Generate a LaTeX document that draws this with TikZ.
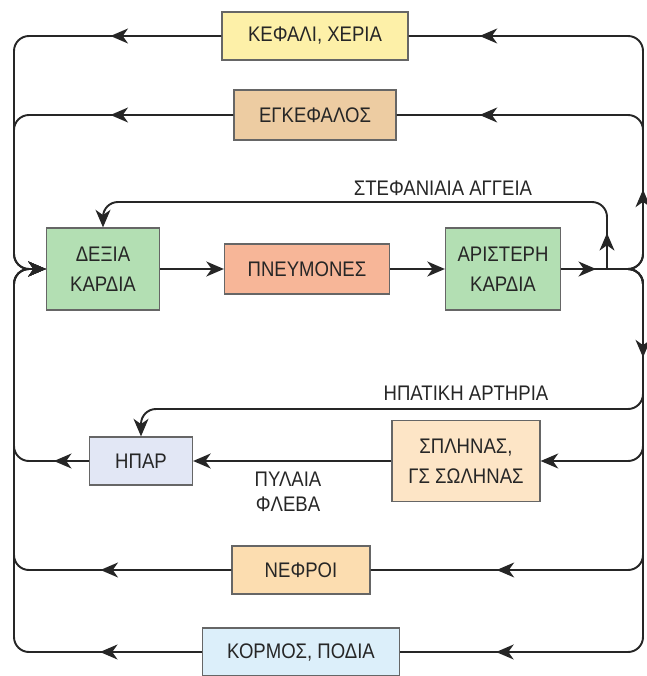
\documentclass[tikz,border=0pt]{standalone}
\usepackage{fontspec}
\setmainfont{Liberation Sans}[FakeStretch=0.88]
\usepackage{xcolor}
\usetikzlibrary{arrows.meta}
\usetikzlibrary{decorations.markings}

\definecolor{headcol}{HTML}{FDF0A8}
\definecolor{braincol}{HTML}{EDCCA2}
\definecolor{heartcol}{HTML}{B3DFB3}
\definecolor{lungcol}{HTML}{F7B698}
\definecolor{livercol}{HTML}{E2E7F5}
\definecolor{spleencol}{HTML}{FDE5C6}
\definecolor{kidneycol}{HTML}{FCDDB0}
\definecolor{trunkcol}{HTML}{DCEFFA}

\begin{document}
\begin{tikzpicture}[x=0.02cm, y=-0.02cm,
        flow/.style={line width=1.1pt, black!85, rounded corners=0.3cm},
        tip/.style={-{Stealth[length=10pt,width=8.5pt,inset=3pt]}},
        arrowat/.style={postaction={decorate, decoration={markings,
            mark=at position #1 with {\arrow{Stealth[length=10pt,width=8.5pt,inset=3pt]}}}}},
        box/.style={draw=black!60, line width=0.7pt, text=black!85, align=center,
            inner sep=2pt, font=\fontsize{12}{17}\selectfont},
        lab/.style={text=black!85, align=center, font=\fontsize{12}{14}\selectfont}]
        \useasboundingbox (0,0) rectangle (646,676);

        % organs
        \node[box, fill=headcol, minimum width=3.72cm, minimum height=0.96cm] (head) at (315,36) {ΚΕΦΑΛΙ, ΧΕΡΙΑ};
        \node[box, fill=braincol, minimum width=3.24cm, minimum height=1cm] (brain) at (315,115) {ΕΓΚΕΦΑΛΟΣ};
        \node[box, fill=heartcol, minimum width=2.26cm, minimum height=1.64cm] (rheart) at (103,269) {ΔΕΞΙΑ\\ΚΑΡΔΙΑ};
        \node[box, fill=lungcol, minimum width=3.3cm, minimum height=1cm] (lungs) at (307,269) {ΠΝΕΥΜΟΝΕΣ};
        \node[box, fill=heartcol, minimum width=2.3cm, minimum height=1.64cm] (lheart) at (503,269) {ΑΡΙΣΤΕΡΗ\\ΚΑΡΔΙΑ};
        \node[box, fill=livercol, minimum width=2.06cm, minimum height=0.96cm] (liver) at (141,461) {ΗΠΑΡ};
        \node[box, fill=spleencol, minimum width=2.96cm, minimum height=1.62cm] (spleen) at (466,461) {ΣΠΛΗΝΑΣ,\\ΓΣ ΣΩΛΗΝΑΣ};
        \node[box, fill=kidneycol, minimum width=2.76cm, minimum height=0.96cm] (kidney) at (301,570) {ΝΕΦΡΟΙ};
        \node[box, fill=trunkcol, minimum width=3.94cm, minimum height=0.96cm] (trunk) at (301,652) {ΚΟΡΜΟΣ, ΠΟΔΙΑ};

        % vessel labels
        \node[lab] (corlab) at (443,188) {ΣΤΕΦΑΝΙΑΙΑ ΑΓΓΕΙΑ};
        \node[lab] (heplab) at (466,393) {ΗΠΑΤΙΚΗ ΑΡΤΗΡΙΑ};
        \node[lab] (portlab) at (288,492) {ΠΥΛΑΙΑ\\ΦΛΕΒΑ};

        \coordinate (aout) at (628,269);
        \coordinate (split) at (607,269);

        % heart and lungs
        \draw[flow, tip] (rheart.east) -- (lungs.west);
        \draw[flow, tip] (lungs.east) -- (lheart.west);
        \draw[flow, arrowat=0.7cm] (lheart.east) -- (aout);
        \draw[flow, tip, arrowat=0.72cm] (split) -- (607,202) -| (rheart.north);

        % aorta to the organs
        \draw[flow, arrowat=1.76cm, arrowat=-1.42cm] (aout) -| (643,36) -- (head.east);
        \draw[flow, arrowat=-1.66cm] (aout) -| (643,115) -- (brain.east);
        \draw[flow, tip] (aout) -| (643,409) -| (liver.north);
        \draw[flow, tip] (aout) -| (643,461) -- (spleen.east);
        \draw[flow, arrowat=-2.52cm] (aout) -| (643,570) -- (kidney.east);
        \draw[flow, arrowat=1.94cm, arrowat=-1.92cm] (aout) -| (643,652) -- (trunk.east);

        % back to the right heart
        \draw[flow, tip] (spleen.west) -- (liver.east);
        \draw[flow, tip, arrowat=0.7cm] (liver.west) -| (14,269) -- (rheart.west);
        \foreach \b/\d in {head/2.22cm, brain/2.46cm, kidney/2.62cm, trunk/2.04cm} {
            \draw[flow, tip, arrowat=\d] (\b.west) -| (14,269) -- (rheart.west);
        }
    \end{tikzpicture}
\end{document}
